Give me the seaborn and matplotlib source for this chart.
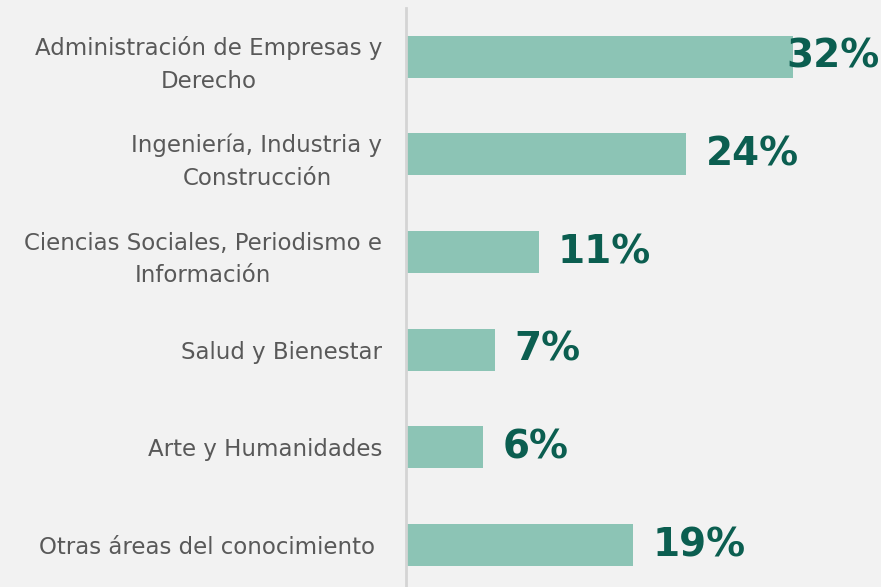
import matplotlib
matplotlib.use("Agg")
import matplotlib.pyplot as plt
import seaborn as sns
import pandas as pd

categories = [
    "Administración de Empresas y\nDerecho",
    "Ingeniería, Industria y\nConstrucción",
    "Ciencias Sociales, Periodismo e\nInformación",
    "Salud y Bienestar",
    "Arte y Humanidades",
    "Otras áreas del conocimiento ",
]
values = [32.0, 23.2, 11.0, 7.4, 6.4, 18.8]
value_labels = ["32%", "24%", "11%", "7%", "6%", "19%"]

df = pd.DataFrame({"cat": categories, "val": values})

sns.set_theme(style="white")
plt.rcParams["font.family"] = ["DejaVu Sans"]

BG = "#f2f2f2"
fig = plt.figure(figsize=(8.81, 5.87), dpi=100, facecolor=BG)
ax = fig.add_axes([406 / 881, 0, 1 - 406 / 881, 579 / 587])
ax.set_facecolor(BG)

sns.barplot(data=df, y="cat", x="val", orient="h", color="#8cc4b5",
            saturation=1, width=0.43, linewidth=0, ax=ax)

xmax = 39.3
ax.set_xlim(0, xmax)
ax.set_ylim(5.43, -0.5)

for sp in ["top", "right", "bottom"]:
    ax.spines[sp].set_visible(False)
ax.spines["left"].set_color("#d4d4d4")
ax.spines["left"].set_linewidth(2)

ax.set_xticks([])
ax.set_xlabel("")
ax.set_ylabel("")
ax.tick_params(axis="y", length=0, pad=17)
ax.set_yticks(range(len(categories)))
ax.set_yticklabels(categories, fontsize=16.5, color="#595959",
                   multialignment="center", linespacing=1.55)

px_per_unit = (881 - 406) / xmax
limit = xmax - 95 / px_per_unit
for i, (v, lab) in enumerate(zip(values, value_labels)):
    x = min(v + 19 / px_per_unit, limit)
    ax.text(x, i, lab, ha="left", va="center", fontsize=28,
            fontweight="bold", color="#0b5e50", clip_on=False)

fig.savefig("out.png", dpi=100, facecolor=BG)
